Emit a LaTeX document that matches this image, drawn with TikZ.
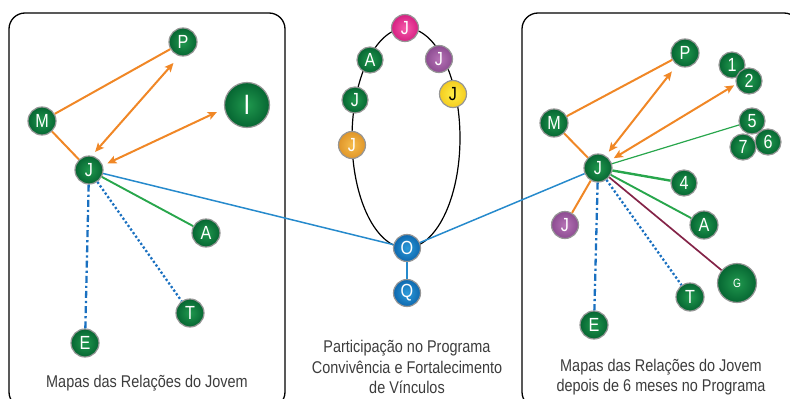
\documentclass[tikz,border=0pt]{standalone}
\usepackage{fontspec}
\setmainfont[FakeStretch=0.85]{Liberation Sans}
\usetikzlibrary{arrows.meta,backgrounds,calc}
\definecolor{rim}{RGB}{150,150,150}
\definecolor{grnin}{RGB}{32,152,78}
\definecolor{grnout}{RGB}{6,102,50}
\definecolor{pnkin}{RGB}{246,90,170}
\definecolor{pnkout}{RGB}{214,32,130}
\definecolor{prpin}{RGB}{182,115,182}
\definecolor{prpout}{RGB}{140,76,145}
\definecolor{ylwin}{RGB}{255,238,70}
\definecolor{ylwout}{RGB}{244,204,32}
\definecolor{orjin}{RGB}{246,188,75}
\definecolor{orjout}{RGB}{224,150,42}
\definecolor{bluin}{RGB}{45,155,218}
\definecolor{bluout}{RGB}{14,104,174}
\definecolor{tieorange}{RGB}{240,135,38}
\definecolor{tiegreen}{RGB}{40,166,76}
\definecolor{tieblue}{RGB}{26,112,192}
\definecolor{tiecyan}{RGB}{38,138,204}
\definecolor{tiewine}{RGB}{132,36,72}
\definecolor{captext}{RGB}{60,60,60}

\begin{document}
\begin{tikzpicture}[x=1pt,y=-1pt,
  ball/.style={circle,draw=rim,line width=1.2pt,minimum size=28pt,inner sep=0pt,text=white,font=\fontsize{19}{19}\selectfont},
  grn/.style={ball,inner color=grnin,outer color=grnout},
  pnk/.style={ball,minimum size=27pt,inner color=pnkin,outer color=pnkout},
  prp/.style={ball,minimum size=27pt,inner color=prpin,outer color=prpout},
  ylw/.style={ball,minimum size=27pt,inner color=ylwin,outer color=ylwout,text=black},
  orj/.style={ball,minimum size=27pt,inner color=orjin,outer color=orjout},
  blu/.style={ball,minimum size=27pt,inner color=bluin,outer color=bluout},
  small/.style={minimum size=26pt},
  tie/.style={tieorange,line width=2pt},
  twoway/.style={tie,{Stealth[length=9pt,width=8pt,inset=2pt]}-{Stealth[length=9pt,width=8pt,inset=2pt]},shorten <=5pt,shorten >=9pt},
  grline/.style={tiegreen,line width=1.9pt},
  wineline/.style={tiewine,line width=1.7pt},
  dotline/.style={tieblue,line width=2.3pt,dash pattern=on 2.2pt off 2.2pt},
  dashdotline/.style={tieblue,line width=2.3pt,dash pattern=on 7pt off 3pt on 2.2pt off 3pt},
  bline/.style={tiecyan,line width=1.5pt},
  caption/.style={text=captext,align=center,font=\fontsize{17}{20.5}\selectfont}]
\path[use as bounding box] (0,0) rectangle (790,399);
\begin{scope}
\clip (0,0) rectangle (790,399);
\draw[line width=1.3pt,rounded corners=16pt] (9,13) rectangle (285,408);
\draw[line width=1.3pt,rounded corners=16pt] (522,13) rectangle (800,408);
\end{scope}
\draw[line width=1.2pt] (406,138) ellipse [x radius=54, y radius=110];

\node[grn] (P) at (183,42) {P};
\node[grn,minimum size=45pt,font=\fontsize{28}{28}\selectfont] (I) at (247,105) {I};
\node[grn] (M) at (42,121) {M};
\node[grn] (J) at (89,170) {J};
\node[grn] (A) at (206,233) {A};
\node[grn] (T) at (190,313) {T};
\node[grn] (E) at (85,343) {E};

\node[pnk] (j1) at (405,28) {J};
\node[grn,small] (a1) at (370,60) {A};
\node[grn,small] (j2) at (355,100) {J};
\node[orj] (j3) at (352,145) {J};
\node[prp] (j4) at (439,59) {J};
\node[ylw] (j5) at (453,94) {J};
\node[blu] (O) at (407,248) {O};
\node[blu] (Q) at (407,293) {Q};

\node[grn] (rP) at (685,53) {P};
\node[grn,small] (r1) at (732,65) {1};
\node[grn,small] (r2) at (749,81) {2};
\node[grn,small] (r5) at (752,121) {5};
\node[grn,small] (r6) at (768,142) {6};
\node[grn,small] (r7) at (743,147) {7};
\node[grn] (rM) at (554,123) {M};
\node[grn] (rJ) at (598,168) {J};
\node[grn,small] (r4) at (684,183) {4};
\node[prp] (rj) at (565,225) {J};
\node[grn] (rA) at (704,225) {A};
\node[grn,minimum size=39pt,font=\fontsize{12}{12}\selectfont] (rG) at (737,283) {G};
\node[grn] (rT) at (690,297) {T};
\node[grn] (rE) at (594,325) {E};

\draw[tie] (M) -- (P);
\draw[tie] (M) -- (J);
\draw[twoway] (J.79) -- (P.256);
\draw[twoway,shorten >=8pt] (J.18) -- (I.189);
\draw[grline] (J) -- (A);
\draw[dotline] (J) -- (T);
\draw[dashdotline] (J) -- (E);
\draw[bline] (J) -- (O);

\draw[bline] (O) -- (Q);
\draw[bline] (O) -- (rJ);

\draw[tie] (rM) -- (rP);
\draw[tie] (rM) -- (rJ);
\draw[twoway,shorten >=8pt] (rJ.58) -- (rP.236);
\draw[twoway,shorten <=4pt,shorten >=2pt] (rJ.32) -- (r2.194);
\draw[grline,line width=1.2pt] (rJ) -- (r5);
\draw[grline,line width=2.4pt] (rJ) -- (r4);
\draw[grline] (rJ) -- (rA);
\draw[wineline] (rJ) -- (rG);
\draw[dotline] (rJ) -- (rT);
\draw[dashdotline] (rJ) -- (rE);
\draw[tie] (rJ) -- (rj);

\node[caption] (capL) at (147,383) {Mapas das Relações do Jovem};
\node[caption] (capC) at (407,367) {Participação no Programa\\Convivência e Fortalecimento\\de Vínculos};
\node[caption] (capR) at (661,377) {Mapas das Relações do Jovem\\depois de 6 meses no Programa};
\end{tikzpicture}
\end{document}
